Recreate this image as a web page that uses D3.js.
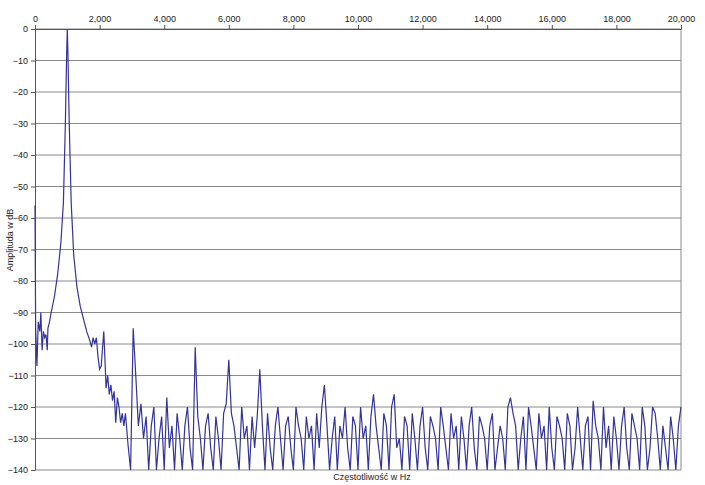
<!DOCTYPE html>
<html><head><meta charset="utf-8">
<script src="https://cdn.jsdelivr.net/npm/d3@7"></script>
<style>body{margin:0;background:#fff}text{font-family:"Liberation Sans",Arial,sans-serif}</style>
</head><body><svg id="c" width="705" height="485"></svg>
<script>
// low-frequency part: [Hz, dB]
const headPoints = [[0,-56],[20,-95],[60,-107],[100,-93],[150,-96],[180,-90],[220,-102],[260,-96],[300,-98],[340,-97],[380,-102],[400,-95],[450,-93],[500,-90],[600,-85],[700,-78],[800,-68],[880,-55],[940,-30],[980,-8],[1000,0],[1020,-8],[1060,-30],[1120,-55],[1200,-72],[1300,-82],[1400,-88],[1500,-92],[1600,-96],[1700,-99],[1750,-101],[1800,-98],[1850,-100],[1900,-98],[1950,-104],[2000,-108],[2050,-107],[2100,-100],[2130,-96],[2170,-106],[2200,-114],[2250,-110],[2300,-116],[2350,-113],[2400,-118],[2450,-115],[2500,-125],[2550,-117],[2600,-120],[2650,-125],[2700,-122],[2750,-126],[2800,-122]]
// noise floor from 2880 Hz, step 80 Hz
const noiseStart = 2880, noiseStep = 80
const noise = [
-132,-140,-95,-110,-126,-119,-130,-123,-140,-126,
-120,-140,-130,-123,-140,-117,-133,-126,-140,-122,
-130,-140,-126,-120,-133,-140,-101,-123,-130,-140,
-126,-122,-133,-140,-123,-130,-140,-122,-119,-105,
-122,-126,-133,-140,-120,-130,-126,-140,-123,-133,
-123,-108,-126,-140,-122,-133,-140,-126,-120,-130,
-140,-126,-123,-133,-140,-120,-126,-130,-140,-123,
-130,-126,-140,-122,-133,-120,-113,-126,-140,-130,
-123,-140,-126,-130,-120,-133,-140,-123,-126,-140,
-120,-130,-126,-140,-123,-116,-126,-133,-140,-122,
-126,-140,-120,-116,-133,-130,-140,-123,-126,-140,
-122,-130,-140,-126,-120,-133,-140,-123,-126,-130,
-140,-120,-126,-133,-140,-122,-130,-126,-140,-123,
-130,-140,-126,-120,-133,-140,-123,-126,-130,-140,
-126,-122,-140,-133,-126,-130,-140,-120,-117,-122,
-126,-140,-130,-123,-140,-120,-126,-133,-140,-122,
-130,-126,-140,-120,-133,-140,-123,-126,-130,-140,
-122,-126,-140,-133,-120,-130,-140,-126,-123,-140,
-118,-126,-130,-140,-120,-133,-126,-140,-123,-130,
-140,-126,-120,-133,-140,-122,-126,-130,-140,-120,
-126,-140,-133,-120,-122,-130,-140,-126,-133,-140,
-123,-130,-140,-126,-120]
const xTicks = d3.range(0, 20001, 2000)
const yTicks = d3.range(0, -141, -10)

const data = headPoints.concat(noise.map((v, i) => [noiseStart + i * noiseStep, v]))

const plotLeft = 35, plotRight = 681, plotTop = 29, plotBottom = 470
const x = d3.scaleLinear().domain([0, 20000]).range([plotLeft, plotRight])
const y = d3.scaleLinear().domain([-140, 0]).range([plotBottom, plotTop])
const svg = d3.select("#c")

// horizontal grid
svg.append("g").selectAll("line").data(yTicks).enter().append("line")
  .attr("x1", plotLeft).attr("x2", plotRight).attr("y1", d => y(d)).attr("y2", d => y(d))
  .attr("stroke", "#8a8a8a").attr("stroke-width", 1)

// right border
svg.append("line").attr("x1", plotRight).attr("x2", plotRight).attr("y1", plotTop).attr("y2", plotBottom).attr("stroke", "#8a8a8a")

const xAxis = svg.append("g").attr("transform", "translate(0," + plotTop + ")")
  .call(d3.axisTop(x).tickValues(xTicks).tickSize(4).tickSizeOuter(0))
const yAxis = svg.append("g").attr("transform", "translate(" + plotLeft + ",0)")
  .call(d3.axisLeft(y).tickValues(yTicks).tickSize(4).tickSizeOuter(0))
;[xAxis, yAxis].forEach(a => {
  a.selectAll("path,line").attr("stroke", "#555")
  a.selectAll("text").attr("font-size", 9).attr("fill", "#222")
})

svg.append("path").datum(data)
  .attr("fill", "none").attr("stroke", "#333399").attr("stroke-width", 1.2)
  .attr("d", d3.line().x(d => x(d[0])).y(d => y(d[1])))

svg.append("text").attr("x", 372).attr("y", 480).attr("text-anchor", "middle")
  .attr("font-size", 9).attr("fill", "#222").text("Częstotliwość w Hz")
svg.append("text").attr("transform", "translate(13,240) rotate(-90)").attr("text-anchor", "middle")
  .attr("font-size", 9).attr("fill", "#222").text("Amplituda w dB")
</script></body></html>
